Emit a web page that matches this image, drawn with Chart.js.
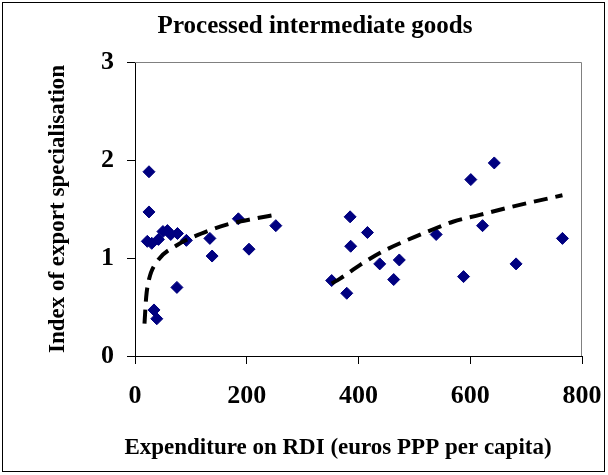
<!DOCTYPE html>
<html>
<head>
<meta charset="utf-8">
<script src="https://cdn.jsdelivr.net/npm/chart.js@4"></script>
<style>
html, body { margin: 0; padding: 0; background: #fff; }
</style>
</head>
<body>
<canvas id="myChart" width="608" height="475"></canvas>
<script>
// observations (RDI spending vs export specialisation index)
let rdi = [25, 25, 22, 30, 42, 50, 58, 64, 76, 92, 34, 39, 75, 134, 138, 185, 204, 252,
           352, 379, 385, 386, 416, 438, 463, 473, 539, 588, 601, 622, 643, 682, 765];
let index = [1.88, 1.47, 1.17, 1.15, 1.19, 1.27, 1.28, 1.24, 1.25, 1.18, 0.47, 0.38, 0.70, 1.20, 1.02, 1.40, 1.09, 1.33,
             0.77, 0.64, 1.42, 1.12, 1.26, 0.94, 0.78, 0.98, 1.24, 0.81, 1.80, 1.33, 1.97, 0.94, 1.20];

// trend lines
let trendLowX = [17, 20, 25, 39, 75, 119, 164, 212, 250];
let trendLowY = [0.33, 0.60, 0.78, 0.96, 1.13, 1.25, 1.34, 1.40, 1.44];
let trendHighX = [352, 367, 403, 441, 486, 528, 569, 617, 665, 710, 765];
let trendHighY = [0.74, 0.79, 0.93, 1.06, 1.18, 1.28, 1.37, 1.44, 1.51, 1.57, 1.64];

let xTicks = [0, 200, 400, 600, 800];
let yTicks = [0, 1, 2, 3];

let chartTitle = 'Processed intermediate goods';
let xTitle = 'Expenditure on RDI (euros PPP per capita)';
let yTitle = 'Index of export specialisation';

const serif = '"Liberation Serif", "Times New Roman", serif';

function pairs(xs, ys) {
    return xs.map((x, i) => ({x: x, y: ys[i]}));
}

// white page, outer frame, grey top/right plot border and the two free titles
const frame = {
    id: 'frame',
    beforeDraw(chart) {
        const ctx = chart.ctx;
        ctx.save();
        ctx.fillStyle = '#fff';
        ctx.fillRect(0, 0, chart.width, chart.height);
        ctx.strokeStyle = '#000';
        ctx.lineWidth = 1;
        ctx.strokeRect(2.5, 2.5, 602, 469);
        ctx.restore();
    },
    afterDraw(chart) {
        const ctx = chart.ctx;
        const a = chart.chartArea;
        ctx.save();
        ctx.strokeStyle = '#808080';
        ctx.lineWidth = 1;
        ctx.beginPath();
        ctx.moveTo(a.left, a.top + 0.5);
        ctx.lineTo(a.right - 0.5, a.top + 0.5);
        ctx.lineTo(a.right - 0.5, a.bottom);
        ctx.stroke();

        ctx.fillStyle = '#000';
        ctx.textAlign = 'center';
        ctx.textBaseline = 'alphabetic';
        ctx.font = 'bold 25px ' + serif;
        ctx.fillText(chartTitle, 315, 33);
        ctx.font = 'bold 23px ' + serif;
        ctx.fillText(xTitle, 338, 454);
        ctx.restore();
    }
};

let ctx = document.getElementById('myChart').getContext('2d');

let chart = new Chart(ctx, {
    type: 'scatter',
    data: {
        datasets: [{
            data: pairs(trendLowX, trendLowY),
            showLine: true,
            borderColor: '#000',
            borderWidth: 4,
            borderDash: [14, 8],
            pointRadius: 0,
            cubicInterpolationMode: 'monotone',
            fill: false
        }, {
            data: pairs(trendHighX, trendHighY),
            showLine: true,
            borderColor: '#000',
            borderWidth: 4,
            borderDash: [14, 8],
            pointRadius: 0,
            cubicInterpolationMode: 'monotone',
            fill: false
        }, {
            data: pairs(rdi, index),
            pointStyle: 'rectRot',
            pointRadius: 6,
            borderWidth: 1,
            backgroundColor: '#000080',
            borderColor: '#000080'
        }]
    },
    plugins: [frame],
    options: {
        responsive: false,
        animation: false,
        layout: {
            padding: {top: 62, right: 26, left: 0, bottom: 0}
        },
        plugins: {
            legend: {display: false},
            tooltip: {enabled: false}
        },
        scales: {
            x: {
                type: 'linear',
                min: 0,
                max: 800,
                afterFit: s => { s.height = 119; s.paddingRight = 0; },
                afterBuildTicks: s => { s.ticks = xTicks.map(v => ({value: v})); },
                grid: {display: true, drawOnChartArea: false, drawTicks: true, tickLength: 8, color: '#000'},
                border: {display: true, color: '#000', width: 1},
                ticks: {
                    color: '#000',
                    padding: 17,
                    maxRotation: 0,
                    font: {family: serif, size: 26, weight: 'bold'}
                }
            },
            y: {
                type: 'linear',
                min: 0,
                max: 3,
                afterFit: s => { s.width = 135; },
                afterBuildTicks: s => { s.ticks = yTicks.map(v => ({value: v})); },
                grid: {display: true, drawOnChartArea: false, drawTicks: true, tickLength: 8, color: '#000'},
                border: {display: true, color: '#000', width: 1},
                ticks: {
                    color: '#000',
                    padding: 13,
                    font: {family: serif, size: 26, weight: 'bold'}
                },
                title: {
                    display: true,
                    text: yTitle,
                    color: '#000',
                    padding: {top: 44, bottom: 0},
                    font: {family: serif, size: 23, weight: 'bold'}
                }
            }
        }
    }
});
</script>
</body>
</html>
